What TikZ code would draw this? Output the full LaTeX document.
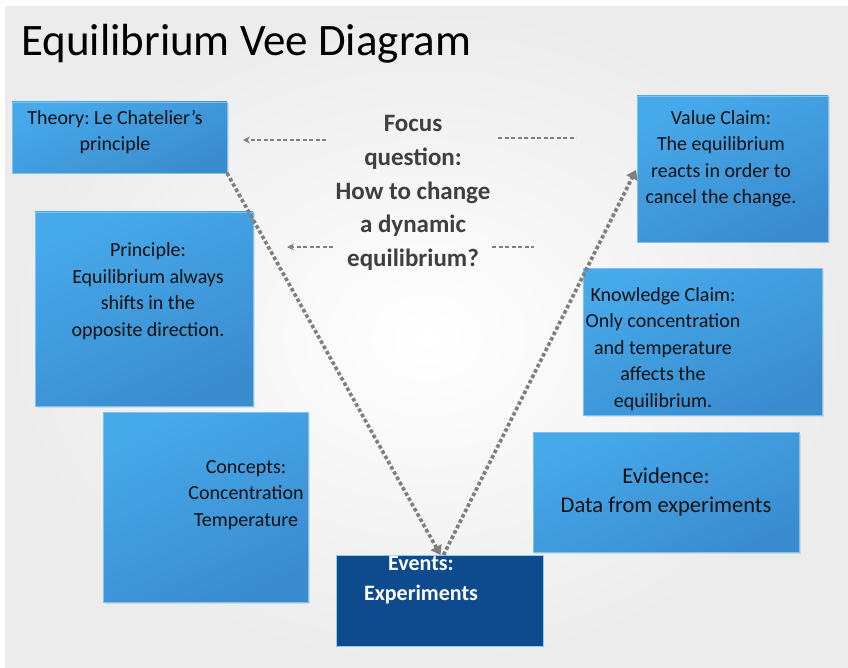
\documentclass[tikz,border=0pt]{standalone}
\usepackage{fontspec}
\setmainfont{Carlito}
\frenchspacing
\usetikzlibrary{arrows.meta,shadows}
\definecolor{boxTop}{HTML}{46A9EA}
\definecolor{boxBot}{HTML}{3A8CCF}
\definecolor{evDark}{HTML}{0E4B8E}
\definecolor{connGray}{HTML}{7F7F7F}
\definecolor{txtDark}{HTML}{111111}
\definecolor{focusGray}{HTML}{3F3F3F}
\tikzset{
  bluebox/.style={rectangle, inner sep=0pt, outer sep=0pt,
    top color=boxTop, bottom color=boxBot, shading angle=25,
    draw=boxTop!70!white, line width=0.6pt,
    drop shadow={opacity=0.18, shadow xshift=1.5pt, shadow yshift=-1.5pt}},
  eventbox/.style={rectangle, inner sep=0pt, outer sep=0pt,
    fill=evDark, draw=boxTop!60!white, line width=0.8pt},
  boxtext/.style={align=center, text=txtDark, font=\fontsize{20}{26.5}\selectfont, inner sep=0pt},
  vline/.style={draw=connGray, line width=3.6pt, dash pattern=on 3.6pt off 2.4pt,
    -{Triangle[length=9pt,width=12pt]}},
  hdash/.style={draw=connGray, line width=1.4pt, dash pattern=on 4pt off 2.5pt},
  hdasharrow/.style={hdash, -{Stealth[length=7pt,width=7pt]}}
}
\begin{document}
\begin{tikzpicture}[x=1pt,y=-1pt]
\useasboundingbox (0,0) rectangle (848,668);
\fill[white] (0,0) rectangle (848,668);
\shade[inner color=white, outer color=gray!15] (5,7) rectangle (848,668);

% title
\node[anchor=base west, inner sep=0pt, font=\fontsize{45}{50}\selectfont, text=black] (title) at (21,56) {Equilibrium Vee Diagram};

% boxes
\node[bluebox, minimum width=215pt, minimum height=71pt] (theory) at (119.5,137.5) {};
\node[bluebox, minimum width=218pt, minimum height=194pt] (principle) at (144,309) {};
\node[bluebox, minimum width=205pt, minimum height=190pt] (concepts) at (205.5,507) {};
\node[eventbox, minimum width=207pt, minimum height=91pt] (events) at (439.5,600.5) {};
\node[bluebox, minimum width=191pt, minimum height=146pt] (value) at (732.5,169) {};
\node[bluebox, minimum width=239pt, minimum height=147pt] (knowledge) at (702.5,341.5) {};
\node[bluebox, minimum width=266pt, minimum height=120pt] (evidence) at (666,492) {};

% texts
\node[boxtext] (theorytxt) at (115,132) {Theory: Le Chatelier’s\\principle};
\node[boxtext] (principletxt) at (148,291) {Principle:\\Equilibrium always\\shifts in the\\opposite direction.};
\node[boxtext] (conceptstxt) at (246,495) {Concepts:\\Concentration\\Temperature};
\node[boxtext] (valuetxt) at (721,159) {Value Claim:\\The equilibrium\\reacts in order to\\cancel the change.};
\node[boxtext] (knowledgetxt) at (663,349) {Knowledge Claim:\\Only concentration\\and temperature\\affects the\\equilibrium.};
\node[boxtext, font=\fontsize{22.5}{29}\selectfont] (evidencetxt) at (666,492) {Evidence:\\Data from experiments};
\node[align=center, inner sep=0pt, text=white, font=\bfseries\fontsize{22}{30}\selectfont] (eventstxt) at (421,580) {Events:\\Experiments};
\node[align=center, inner sep=0pt, text=focusGray, font=\bfseries\fontsize{25}{33.7}\selectfont] (focus) at (413,193) {Focus\\question:\\How to change\\a dynamic\\equilibrium?};

% V connectors
\coordinate (vtip) at ([xshift=1pt]events.north);
\draw[vline] (theory.south east) -- (vtip);
\coordinate (vstart) at ([xshift=4pt]events.north);
\coordinate (vend) at (636,170);
\draw[vline] (vstart) -- (vend);

% dashed connectors from focus question
\coordinate (d1a) at (326,140);
\coordinate (d1b) at (243,140);
\coordinate (d2a) at (498,138);
\coordinate (d2b) at (576,138);
\coordinate (d3a) at (333,247);
\coordinate (d3b) at (287,247);
\coordinate (d4a) at (492,247);
\coordinate (d4b) at (534,247);
\draw[hdasharrow] (d1a) -- (d1b);
\draw[hdash] (d2a) -- (d2b);
\draw[hdasharrow] (d3a) -- (d3b);
\draw[hdash] (d4a) -- (d4b);
\end{tikzpicture}
\end{document}
